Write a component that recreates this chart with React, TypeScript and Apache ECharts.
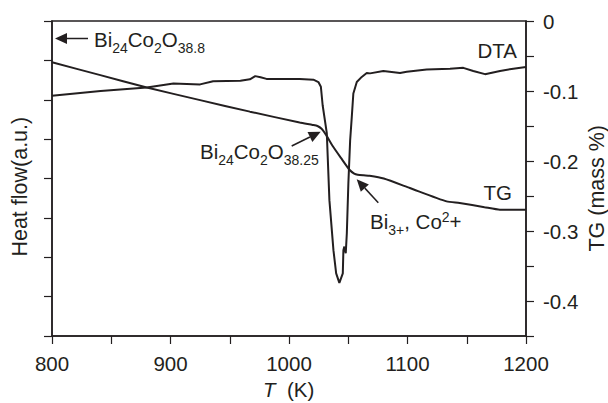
import React, { useEffect, useRef } from "react";
import * as echarts from "echarts";

// ---- data ----
const dtaTemps = [800, 841, 880, 902.5, 925, 936, 959, 967, 971.5, 976, 981, 1009, 1020.6, 1024.8, 1026.9, 1028.4, 1031.9, 1034.1, 1037.5, 1039.8, 1042.5, 1045.4, 1045.9, 1046.7, 1047.9, 1048.8, 1050.1, 1051.6, 1053.0, 1054.3, 1057.2, 1061.4, 1065.6, 1068.4, 1079.6, 1093.7, 1099.4, 1116.2, 1135.9, 1147.1, 1155.5, 1165.4, 1178.1, 1189.3, 1200];
const dtaValues = [6.10, 6.22, 6.31, 6.41, 6.39, 6.47, 6.48, 6.52, 6.60, 6.57, 6.53, 6.53, 6.51, 6.45, 6.33, 5.86, 5.15, 3.45, 2.18, 1.59, 1.35, 1.59, 2.18, 2.27, 2.10, 2.61, 3.88, 4.97, 5.57, 6.16, 6.45, 6.58, 6.68, 6.67, 6.73, 6.68, 6.71, 6.77, 6.79, 6.81, 6.73, 6.65, 6.73, 6.79, 6.83];
const tgTemps = [800, 840, 880, 925, 967, 1009, 1020, 1024, 1027.5, 1031, 1037, 1044, 1051, 1055, 1058, 1063, 1068, 1080, 1102, 1133, 1144, 1165, 1178, 1200];
const tgValues = [-0.059, -0.077, -0.095, -0.113, -0.1295, -0.145, -0.1485, -0.150, -0.154, -0.162, -0.179, -0.196, -0.2125, -0.218, -0.2197, -0.2205, -0.221, -0.225, -0.2386, -0.2577, -0.260, -0.266, -0.2695, -0.2695];
const xTicks = { min: 800, max: 1200, step: 50 };
const tgAxis = { min: -0.45, max: 0, step: 0.05 };
const dtaAxis = { min: 0, max: 8, step: 1 };

const INK = "#231f20";
const FONT = "'Liberation Sans', Arial, Helvetica, sans-serif";

function arrow(tip: [number, number], tail: [number, number]) {
  const dx = tip[0] - tail[0];
  const dy = tip[1] - tail[1];
  const len = Math.sqrt(dx * dx + dy * dy);
  const ux = dx / len, uy = dy / len;
  const hl = 12, hw = 5.5;
  const bx = tip[0] - ux * hl, by = tip[1] - uy * hl;
  const px = -uy * hw, py = ux * hw;
  return [
    { type: "line", shape: { x1: tail[0], y1: tail[1], x2: bx, y2: by }, style: { stroke: INK, lineWidth: 1.5 }, silent: true },
    { type: "polygon", shape: { points: [[tip[0], tip[1]], [bx + px, by + py], [bx - px, by - py]] }, style: { fill: INK }, silent: true },
  ];
}

const richSub = {
  n: { fontSize: 20.5, fontFamily: FONT, fill: INK, lineHeight: 32, verticalAlign: "middle" },
  s: { fontSize: 14, fontFamily: FONT, fill: INK, lineHeight: 14, padding: [17, 0, 0, 0], verticalAlign: "middle" },
  p: { fontSize: 14, fontFamily: FONT, fill: INK, lineHeight: 14, padding: [0, 0, 10, 0], verticalAlign: "middle" },
};

function richText(text: string, x: number, y: number, align = "left") {
  return {
    type: "text",
    silent: true,
    style: { text, x, y, align, verticalAlign: "middle", rich: richSub, fontSize: 20.5, fontFamily: FONT, fill: INK },
  };
}

export default function App() {
  const ref = useRef<HTMLDivElement>(null);
  useEffect(() => {
    if (!ref.current) return;
    const chart = echarts.init(ref.current, undefined, { renderer: "svg" });
    const dta = dtaTemps.map((t, i) => [t, dtaValues[i]]);
    const tg = tgTemps.map((t, i) => [t, tgValues[i]]);
    const axisLine = { show: true, onZero: false, lineStyle: { color: INK, width: 1.5 } };
    const axisTick = { show: true, inside: false, length: 8, lineStyle: { color: INK, width: 1.2 } };
    chart.setOption({
      animation: false,
      backgroundColor: "#ffffff",
      grid: { left: 52, right: 82, top: 21, bottom: 67, show: true, borderColor: INK, borderWidth: 1.5, backgroundColor: "transparent" },
      xAxis: {
        type: "value",
        min: xTicks.min,
        max: xTicks.max,
        interval: xTicks.step,
        axisLine,
        axisTick,
        splitLine: { show: false },
        axisLabel: {
          margin: 17,
          fontSize: 20.5,
          fontFamily: FONT,
          color: INK,
          formatter: (v: number) => (Math.round(v) % 100 === 0 ? String(Math.round(v)) : ""),
        },
      },
      yAxis: [
        {
          type: "value",
          position: "left",
          min: dtaAxis.min,
          max: dtaAxis.max,
          interval: dtaAxis.step,
          axisLine,
          axisTick,
          axisLabel: { show: false },
          splitLine: { show: false },
        },
        {
          type: "value",
          position: "right",
          min: tgAxis.min,
          max: tgAxis.max,
          interval: tgAxis.step,
          axisLine,
          axisTick,
          splitLine: { show: false },
          axisLabel: {
            margin: 17,
            fontSize: 20.5,
            fontFamily: FONT,
            color: INK,
            formatter: (v: number) => {
              const k = Math.round(v * 100);
              if (k === -45) return "";
              if (k % 10 !== 0) return "";
              if (k === 0) return "0";
              return (k / 100).toFixed(1);
            },
          },
        },
      ],
      series: [
        {
          name: "DTA",
          type: "line",
          yAxisIndex: 0,
          data: dta,
          showSymbol: false,
          symbol: "none",
          lineStyle: { color: INK, width: 2 },
          z: 3,
        },
        {
          name: "TG",
          type: "line",
          yAxisIndex: 1,
          data: tg,
          showSymbol: false,
          symbol: "none",
          smooth: 0.2,
          lineStyle: { color: INK, width: 2 },
          z: 3,
        },
      ],
      graphic: [
        ...arrow([55, 38.5], [88, 38.5]),
        ...arrow([320.7, 131.7], [291.7, 146]),
        ...arrow([356.7, 179.3], [378.3, 202.7]),
        richText("{n|Bi}{s|24}{n|Co}{s|2}{n|O}{s|38.8}", 94, 39.5),
        richText("{n|Bi}{s|24}{n|Co}{s|2}{n|O}{s|38.25}", 200, 151),
        richText("{n|Bi}{s|3+}{n|, Co}{p|2}{n|+}", 370, 221.5),
        { type: "text", silent: true, style: { text: "DTA", x: 517, y: 50.5, align: "right", verticalAlign: "middle", fontSize: 20.5, fontFamily: FONT, fill: INK } },
        { type: "text", silent: true, style: { text: "TG", x: 512, y: 192.5, align: "right", verticalAlign: "middle", fontSize: 20.5, fontFamily: FONT, fill: INK } },
        { type: "text", silent: true, x: 20, y: 186.7, rotation: Math.PI / 2, style: { text: "Heat flow(a.u.)", x: 0, y: 0, align: "center", verticalAlign: "middle", fontSize: 21.5, fontFamily: FONT, fill: INK } },
        { type: "text", silent: true, x: 596.7, y: 188.3, rotation: Math.PI / 2, style: { text: "TG (mass %)", x: 0, y: 0, align: "center", verticalAlign: "middle", fontSize: 21.5, fontFamily: FONT, fill: INK } },
        {
          type: "text",
          silent: true,
          style: {
            text: "{i|T}  (K)",
            x: 288.7,
            y: 389,
            align: "center",
            verticalAlign: "middle",
            fontSize: 20.5,
            fontFamily: FONT,
            fill: INK,
            rich: { i: { fontSize: 20.5, fontFamily: FONT, fontStyle: "italic", fill: INK } },
          },
        },
      ],
    });
    return () => chart.dispose();
  }, []);
  return <div ref={ref} style={{ width: 608, height: 403, position: "absolute", left: 0, top: 0 }} />;
}
